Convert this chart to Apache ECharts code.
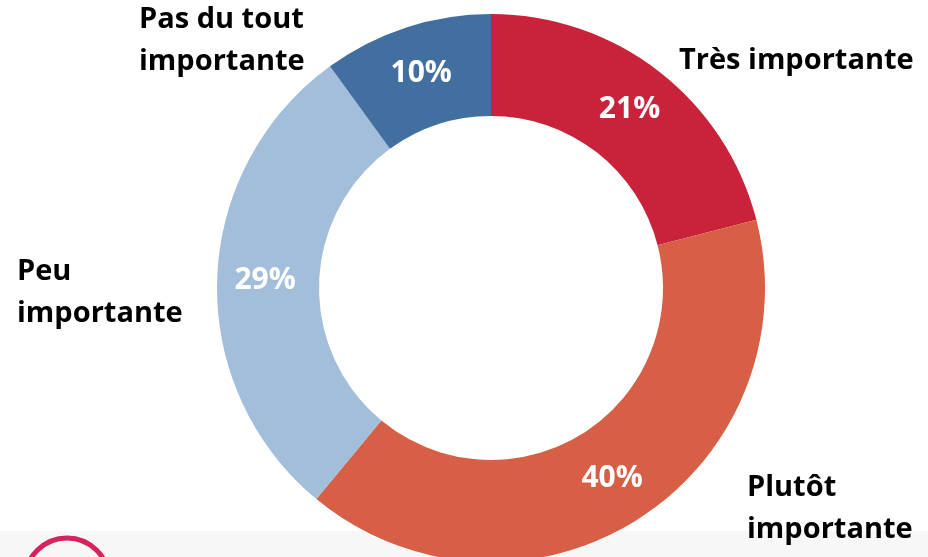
<!DOCTYPE html>
<html><head><meta charset="utf-8">
<script src="https://cdn.jsdelivr.net/npm/echarts@6/dist/echarts.min.js"></script>
<style>html,body{margin:0;padding:0;background:#fff}#c{width:928px;height:557px}</style>
</head><body><div id="c"></div>
<script>
const categories = ['Très importante', 'Plutôt\nimportante', 'Peu\nimportante', 'Pas du tout\nimportante'];
const values = [21, 40, 29, 10];
const colors = ['#C8233B', '#D75F45', '#A3BEDB', '#426F9F'];
const nameLabelPos = [
  {x: 679, y: 61, align: 'left'},
  {x: 747, y: 509, align: 'left'},
  {x: 17, y: 293, align: 'left'},
  {x: 139, y: 41, align: 'left'}
];
const data = categories.map((n, i) => ({name: n, value: values[i], itemStyle: {color: colors[i]}}));
const chart = echarts.init(document.getElementById('c'));
chart.setOption({
  animation: false,
  graphic: [
    {type: 'rect', z: -10, shape: {x: 0, y: 531, width: 928, height: 26}, style: {fill: '#f7f7f7'}},
    {type: 'circle', z: -5, shape: {cx: 67, cy: 580, r: 42}, style: {fill: 'none', stroke: '#D6235F', lineWidth: 5}}
  ],
  series: [
    {
      type: 'pie', center: [491, 288], radius: [172, 274], startAngle: 90, clockwise: true,
      itemStyle: {borderColor: '#fff', borderWidth: 3},
      label: {position: 'inside', formatter: '{c}%', color: '#fff', fontSize: 30, fontWeight: 'bold', fontFamily: 'Open Sans'},
      labelLine: {show: false},
      data: data, silent: true
    },
    {
      type: 'pie', center: [491, 288], radius: [172, 274], startAngle: 90, clockwise: true,
      itemStyle: {color: 'rgba(0,0,0,0)', borderWidth: 0},
      label: {position: 'outside', formatter: '{b}', color: '#000', fontSize: 29, fontWeight: 'bold', fontFamily: 'Open Sans', lineHeight: 42, align: 'left', overflow: 'none', width: 400},
      labelLine: {show: false},
      labelLayout: function (p) { const q = nameLabelPos[p.dataIndex]; return {x: q.x, y: q.y, align: q.align, verticalAlign: 'middle'}; },
      data: data, silent: true
    }
  ]
});
</script></body></html>
